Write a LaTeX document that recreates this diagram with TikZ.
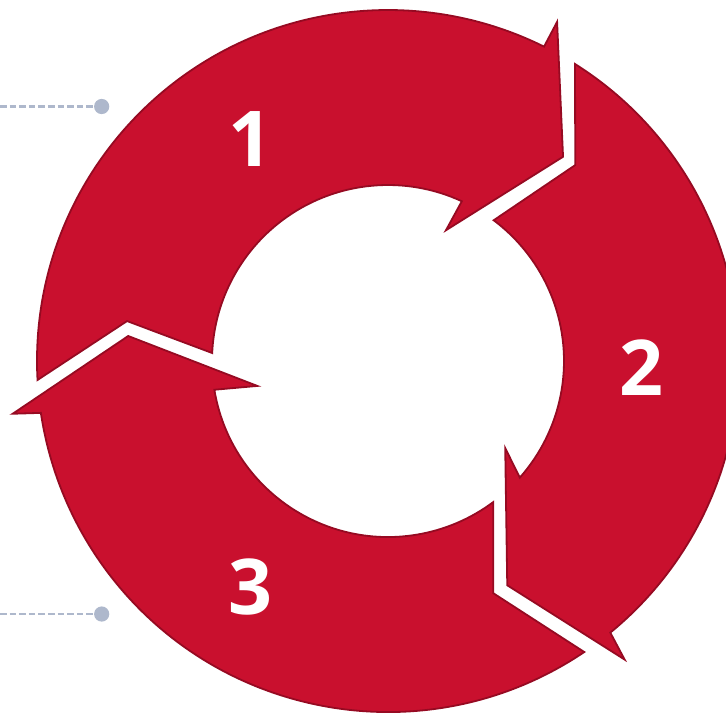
\documentclass[tikz,border=0pt]{standalone}
\usepackage{fontspec}
\setmainfont{Open Sans}
\definecolor{ringred}{RGB}{201,16,46}
\definecolor{ringedge}{RGB}{150,10,34}
\definecolor{dotgrey}{RGB}{174,184,204}
\begin{document}
\begin{tikzpicture}[x=0.5pt,y=0.5pt,
  arrowshape/.style={fill=ringred, draw=ringedge, line width=0.9pt, line join=miter},
  num/.style={text=white, font=\fontsize{38.5}{40}\selectfont\bfseries, inner sep=0pt},
  leader/.style={draw=dotgrey, line width=1.3pt, dash pattern=on 3.3pt off 1.5pt},
  dotmark/.style={circle, fill=dotgrey, minimum size=7.6pt, inner sep=0pt}]
\useasboundingbox (-388,-353) rectangle (338,361);

% arrow 1 (top-left)
\path[arrowshape] (183.1:351) arc[start angle=183.1, end angle=63.6, radius=351]
  -- (63.5:379) -- (49.4:269) -- (66.1:143) -- (65.2:176)
  arc[start angle=65.2, end angle=177.4, radius=176]
  -- (171.3:264) -- cycle;

% arrow 2 (right)
\path[arrowshape] (57.8:351) arc[start angle=57.8, end angle=-50.7, radius=351]
  -- (-51.6:381) -- (-62:254) -- (-36.6:146) -- (-41.5:176)
  arc[start angle=-41.5, end angle=53.1, radius=176]
  -- (46.3:271) -- cycle;

% arrow 3 (bottom-left)
\path[arrowshape] (-56:351) arc[start angle=-56, end angle=-171.5, radius=351]
  -- (188:379) -- (174.5:261) -- (190.8:133) -- (189.4:176)
  arc[start angle=189.4, end angle=306.7, radius=176]
  -- (-65.6:255) -- cycle;

\node[num] (n1) at (-137.5,222) {1};
\node[num] (n2) at (253.5,-6.5) {2};
\node[num] (n3) at (-137.5,-225.5) {3};

\node[dotmark] (d1) at (-286.3,254.5) {};
\coordinate (l1) at (-388,254.5);
\draw[leader] (l1) -- (d1);
\node[dotmark] (d2) at (-286.3,-253) {};
\coordinate (l2) at (-388,-253);
\draw[leader] (l2) -- (d2);
\end{tikzpicture}
\end{document}
